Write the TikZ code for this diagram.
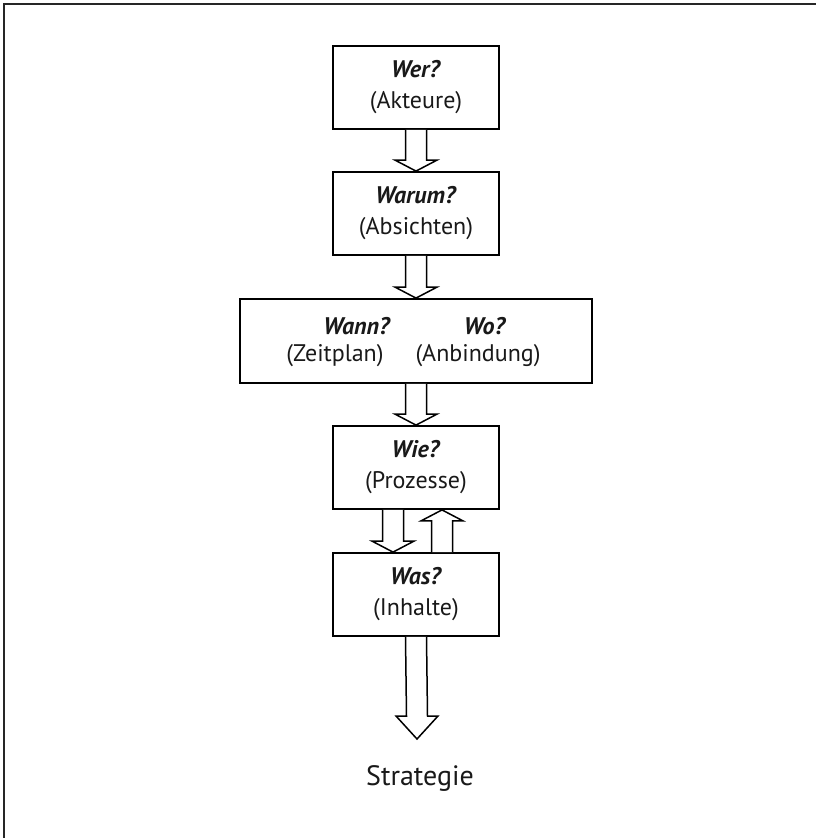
\documentclass[tikz,border=0pt]{standalone}
\usepackage{fontspec}
\setmainfont{PT Sans}
\usetikzlibrary{calc}
\newcommand{\frage}[1]{\textbf{\textit{#1}}}
\newcommand{\hohlpfeil}[4]{%
  \draw[pfeil]($(#1)+(-10.5,0)$)--($(#2)+(-10.5,{-(#3)*#4})$)--($(#2)+(-21,{-(#3)*#4})$)
    --(#2)--($(#2)+(21,{-(#3)*#4})$)--($(#2)+(10.5,{-(#3)*#4})$)--($(#1)+(10.5,0)$);}

\begin{document}
\begin{tikzpicture}[x=1pt,y=-1pt,
      stufe/.style={draw,line width=1.8pt,minimum width=166pt,minimum height=83pt,align=center,
        inner sep=0pt,font=\fontsize{24}{31}\selectfont},
      fach/.style={font=\fontsize{24}{31}\selectfont},
      pfeil/.style={line width=1.5pt,fill=white,line join=miter},
      every node/.style={text=black!90}]
  \useasboundingbox(0,0)rectangle(816,838);
  \draw[line width=2pt,black!85](4,838)--(4,4)--(816,4);
  \node[stufe](wer)at(416,87.5){\frage{Wer?}\\(Akteure)};
  \node[stufe](warum)at(416,213.5){\frage{Warum?}\\(Absichten)};
  \node[stufe,minimum width=352pt,minimum height=84pt](wannwo)at(416,341){};
  \node[fach](wann)at(357,326){\frage{Wann?}};
  \node[fach](zeitplan)at(335,356){(Zeitplan)};
  \node[fach](wo)at(485,326){\frage{Wo?}};
  \node[fach](anbindung)at(478,356){(Anbindung)};
  \node[stufe](wie)at(416,467.5){\frage{Wie?}\\(Prozesse)};
  \node[stufe](was)at(416,594.5){\frage{Was?}\\(Inhalte)};
  \node[font=\fontsize{28}{32}\selectfont](strategie)at(420,778){Strategie};
  \coordinate(spitze)at(417,739);
  \hohlpfeil{wer.south}{warum.north}{1}{11}
  \hohlpfeil{warum.south}{wannwo.north}{1}{11}
  \hohlpfeil{wannwo.south}{wie.north}{1}{11}
  \hohlpfeil{$(wie.south)+(-23,0)$}{$(was.north)+(-23,0)$}{1}{11}
  \hohlpfeil{$(was.north)+(26,0)$}{$(wie.south)+(26,0)$}{-1}{11}
  \hohlpfeil{was.south}{spitze}{1}{23}
\end{tikzpicture}
\end{document}
